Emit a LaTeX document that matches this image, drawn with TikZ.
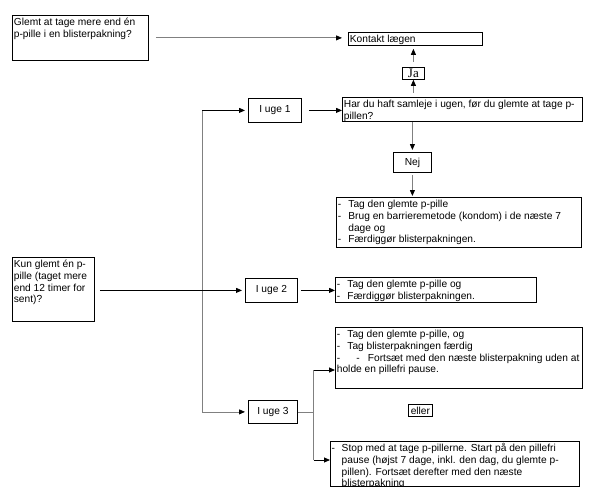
\documentclass[tikz,border=0pt]{standalone}
\usepackage{fontspec}
\setmainfont{Liberation Sans}
\newfontfamily\lserif{Liberation Serif}
\usetikzlibrary{arrows.meta}
\newcommand{\tb}[3]{\parbox[c][#2pt][t]{#1pt}{\leftskip=1.5pt\rightskip=0pt plus 1fil\parindent=0pt\hyphenpenalty=10000\exhyphenpenalty=10000\everypar{\strut}\vspace*{2.4pt}#3}}
\newcommand{\itm}[2][10.5pt]{\par\hangindent=#1\hangafter=1\makebox[#1][l]{-}#2}
\tikzset{
  tbox/.style={draw, line width=0.8pt, anchor=north west, inner sep=0pt},
  cbox/.style={draw, line width=0.8pt, anchor=north west, inner sep=0pt, align=center},
  ln/.style={line width=0.8pt},
  gln/.style={line width=0.8pt, draw=gray},
  barr/.style={line width=0.8pt, -{Triangle[length=6pt,width=5pt,black]}},
  garr/.style={line width=0.8pt, draw=gray, -{Triangle[length=6pt,width=5pt,black]}},
}
\begin{document}
\begin{tikzpicture}[x=1pt,y=-1pt, every node/.style={font=\fontsize{10.2}{11.6}\selectfont}]
\fill[white] (0,0) rectangle (594,500);
\useasboundingbox (0,0) rectangle (594,500);

% boxes
\node[tbox] (q1) at (12,15) {\tb{136}{45}{Glemt at tage mere end én\\p-pille i en blisterpakning?}};
\node[tbox] (kontakt) at (348,32) {\tb{134}{13}{Kontakt lægen}};
\node[cbox, minimum width=22pt, minimum height=12pt, font=\lserif\fontsize{13}{13}\selectfont] (ja) at (402,67) {Ja};
\node[tbox] (q2) at (342,97) {\tb{240}{24}{Har du haft samleje i ugen, før du glemte at tage p-\\pillen?}};
\node[cbox, minimum width=53pt, minimum height=24pt] (uge1) at (248,98) {I uge 1};
\node[cbox, minimum width=38pt, minimum height=20pt] (nej) at (393,152) {Nej};
\node[tbox] (r1) at (336,197) {\tb{245}{50}{%
  \itm{Tag den glemte p-pille}%
  \itm{Brug en barrieremetode (kondom) i de næste 7\\dage og}%
  \itm{Færdiggør blisterpakningen.}}};
\node[tbox] (q3) at (12,257) {\tb{82}{64}{Kun glemt én p-\\pille (taget mere\\end 12 timer for\\sent)?}};
\node[cbox, minimum width=52pt, minimum height=24pt] (uge2) at (245,278) {I uge 2};
\node[tbox] (r2) at (335,277) {\tb{201}{25}{%
  \itm{Tag den glemte p-pille og}%
  \itm{Færdiggør blisterpakningen.}}};
\node[tbox] (r3a) at (335,327) {\tb{247}{61}{%
  \itm{Tag den glemte p-pille, og}%
  \itm{Tag blisterpakningen færdig}%
  \par\makebox[19.5pt][l]{-}\makebox[11.5pt][l]{-}Fortsæt med den næste blisterpakning uden at\\holde en pillefri pause.}};
\node[cbox, minimum width=49pt, minimum height=23pt] (uge3) at (248,400) {I uge 3};
\node[cbox, minimum width=24pt, minimum height=12pt] (eller) at (408,404) {eller};
\coordinate (r3bnw) at (330,441);
\coordinate (r3bse) at (579,486);
\begin{scope}
  \clip (r3bnw) rectangle (r3bse);
  \node[anchor=north west, inner sep=0pt] (r3btxt) at (r3bnw) {\tb{249}{45}{%
    \itm[10pt]{Stop med at tage p-pillerne. Start på den pillefri\\pause (højst 7 dage, inkl. den dag, du glemte p-\\pillen). Fortsæt derefter med den næste\\blisterpakning}}};
\end{scope}
\node[cbox, minimum width=249pt, minimum height=45pt] (r3b) at (r3bnw) {};

% connectors
\draw[garr, shorten <=7pt, shorten >=6pt] (q1.east) -- (q1.east -| kontakt.west);
\draw[garr, shorten <=4pt] (ja.south |- q2.north) -- (ja.south);
\draw[garr, shorten <=5pt, shorten >=3pt] (ja.north) -- (ja.north |- kontakt.south);
\draw[garr, shorten >=2pt] (nej.north |- q2.south) -- (nej.north);
\draw[garr, shorten <=2pt, shorten >=1pt] (nej.south) -- (nej.south |- r1.north);

\coordinate (tx) at (202,0);
\coordinate (t1) at (tx |- uge1.west);
\coordinate (t3) at (tx |- uge3.west);
\draw[gln] (t1) -- (t3);
\draw[barr, shorten >=3pt] (t1) -- (uge1.west);
\draw[garr, shorten >=3pt] (t3) -- (uge3.west);
\draw[barr, shorten <=7pt] (uge1.east) -- (uge1.east -| q2.west);

\draw[barr, shorten <=5pt, shorten >=3pt] (q3.east |- uge2.west) -- (uge2.west);
\draw[barr, shorten <=3pt] (uge2.east) -- (uge2.east -| r2.west);

\coordinate (fx) at (313.5,0);
\coordinate (f1) at (313.5,370);
\coordinate (f2) at (313.5,460);
\draw[gln] (uge3.east) -- (fx |- uge3.east);
\draw[gln] (f1) -- (f2);
\draw[barr] (f1) -- (f1 -| r3a.west);
\draw[barr] (f2) -- (f2 -| r3b.west);
\end{tikzpicture}
\end{document}
